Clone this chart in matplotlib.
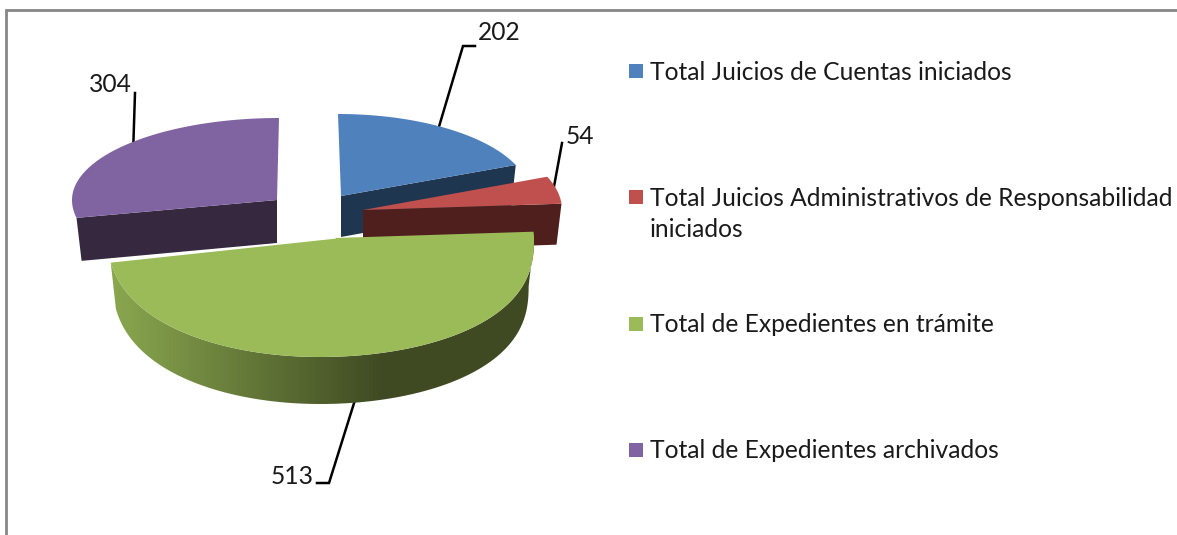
import numpy as np
import matplotlib
matplotlib.use("Agg")
import matplotlib.pyplot as plt
from matplotlib.patches import Polygon

categories = ["Total Juicios de Cuentas iniciados",
              "Total Juicios Administrativos de Responsabilidad\niniciados",
              "Total de Expedientes en trámite",
              "Total de Expedientes archivados"]
values = [202, 54, 513, 304]
top_colors = ["#4F81BD", "#C0504D", "#9BBB59", "#8064A2"]
side_colors = ["#1F3650", "#4F1F1D", "#3F4A22", "#35283F"]

# exploded slices: cx, cy, rx, ry back, ry front, depth, apex x
slices = [(338, 196, 192, 82, 82, 41, 341),
          (363, 210, 199, 88, 88, 41, 363),
          (320, 238, 214, 88, 119, 47, 335),
          (279, 200, 207, 82, 86, 43, 277)]

legend_y = [72, 214, 325, 451]
marker_y = [71, 197, 324, 450]
leaders = [([438, 463, 475], [130, 46, 46]),
           ([553, 562], [192, 143]),
           ([355, 329, 317], [400, 483, 483]),
           ([133, 135], [155, 93])]
label_pos = [(499, 32), (580, 136), (292, 476), (110, 85)]

fig = plt.figure(figsize=(11.77, 5.35), dpi=100)
ax = fig.add_axes([0, 0, 1, 1])
plt.rcParams["font.family"] = "Lato"

ends = np.cumsum(values) / sum(values) * 2 * np.pi
starts = np.r_[0, ends[:-1]]


def height(i, t):
    # the big front slice is fuller towards its ends than a plain ellipse
    cx, cy, rx, ryb, ryf, d, ax_x = slices[i]
    c = np.cos(t)
    if i != 2:
        return np.where(c > 0, ryb, ryf) * c
    s = np.sin(t)
    a = np.abs(c)
    a = np.where(s < 0, np.clip(a - 0.073 * (1 - a) / (1 - 0.208), 0, 1), a)
    return np.where(c > 0, ryb * c, -ryf * a ** 0.8)


def rim(i, t):
    cx, cy, rx, ryb, ryf, d, ax_x = slices[i]
    return cx + rx * np.sin(t), cy - height(i, t)


def rim_low(i, t):
    cx, cy, rx, ryb, ryf, d, ax_x = slices[i]
    return cx + 0.975 * rx * np.sin(t), cy + d - height(i, t)


def top_face(i):
    t = np.linspace(starts[i], ends[i], 300)
    x, y = rim(i, t)
    return np.column_stack([np.r_[slices[i][6], x], np.r_[slices[i][1], y]])


def cut_face(i, t0):
    cx, cy, rx, ryb, ryf, d, ax_x = slices[i]
    x0, y0 = rim(i, t0)
    x1, y1 = rim_low(i, t0)
    return [(ax_x, cy), (x0, y0), (x1, y1), (ax_x, cy + d)]


# leaders go under the slices
for lx, ly in leaders:
    ax.plot(lx, ly, color="black", lw=1.8, solid_joinstyle="miter", zorder=1)

# blue
ax.add_patch(Polygon(cut_face(0, ends[0]), fc=side_colors[0], ec="none", zorder=2))
ax.add_patch(Polygon(top_face(0), fc=top_colors[0], ec="none", zorder=2))

# purple
ax.add_patch(Polygon(cut_face(3, starts[3]), fc=side_colors[3], ec="none", zorder=2))
ax.add_patch(Polygon(top_face(3), fc=top_colors[3], ec="none", zorder=2))

# red
ax.add_patch(Polygon(cut_face(1, ends[1]), fc=side_colors[1], ec="none", zorder=2))
ax.add_patch(Polygon(top_face(1), fc=top_colors[1], ec="none", zorder=2))

# green, the outer wall is shaded left to right
t = np.linspace(starts[2], ends[2], 400)
t = t[(t >= np.pi / 2) & (t <= ends[2])]
x_up, y_up = rim(2, t)
x_lo, y_lo = rim_low(2, t)
wall = Polygon(np.column_stack([np.r_[x_up, x_lo[::-1]], np.r_[y_up, y_lo[::-1]]]),
               transform=ax.transData, fc="none", ec="none")
ax.add_patch(wall)
light = np.array(matplotlib.colors.to_rgb("#8AA84F"))
dark = np.array(matplotlib.colors.to_rgb(side_colors[2]))
f = np.clip((383 - np.linspace(100, 540, 440)) / (383 - 110), 0, 1)[None, :, None]
shade = dark[None, None, :] + (light - dark)[None, None, :] * f
im = ax.imshow(shade, extent=(100, 540, 420, 220), aspect="auto", zorder=3)
im.set_clip_path(wall)
ax.add_patch(Polygon(top_face(2), fc=top_colors[2], ec="none", zorder=3))
x_e, y_e = rim(2, np.array([ends[2]]))
ax.plot([x_e[0], slices[2][6]], [y_e[0], slices[2][1]], color="white", lw=1, zorder=3)

ax.set_xlim(0, 1177)
ax.set_ylim(535, 0)
ax.axis("off")

# frame
ax.plot([6, 6, 1177], [535, 10, 10], color="#868686", lw=2, solid_joinstyle="miter")

for (px, py), v in zip(label_pos, values):
    ax.text(px, py, str(v), fontsize=17.7, color="#1a1a1a", ha="center", va="center")

for name, ty, my, c in zip(categories, legend_y, marker_y, top_colors):
    ax.scatter([636], [my], marker="s", s=95, color=c, linewidths=0)
    ax.text(650, ty, name, fontsize=17.7, color="#1a1a1a", ha="left", va="center",
            linespacing=1.45)

fig.savefig("out.png", dpi=100)
